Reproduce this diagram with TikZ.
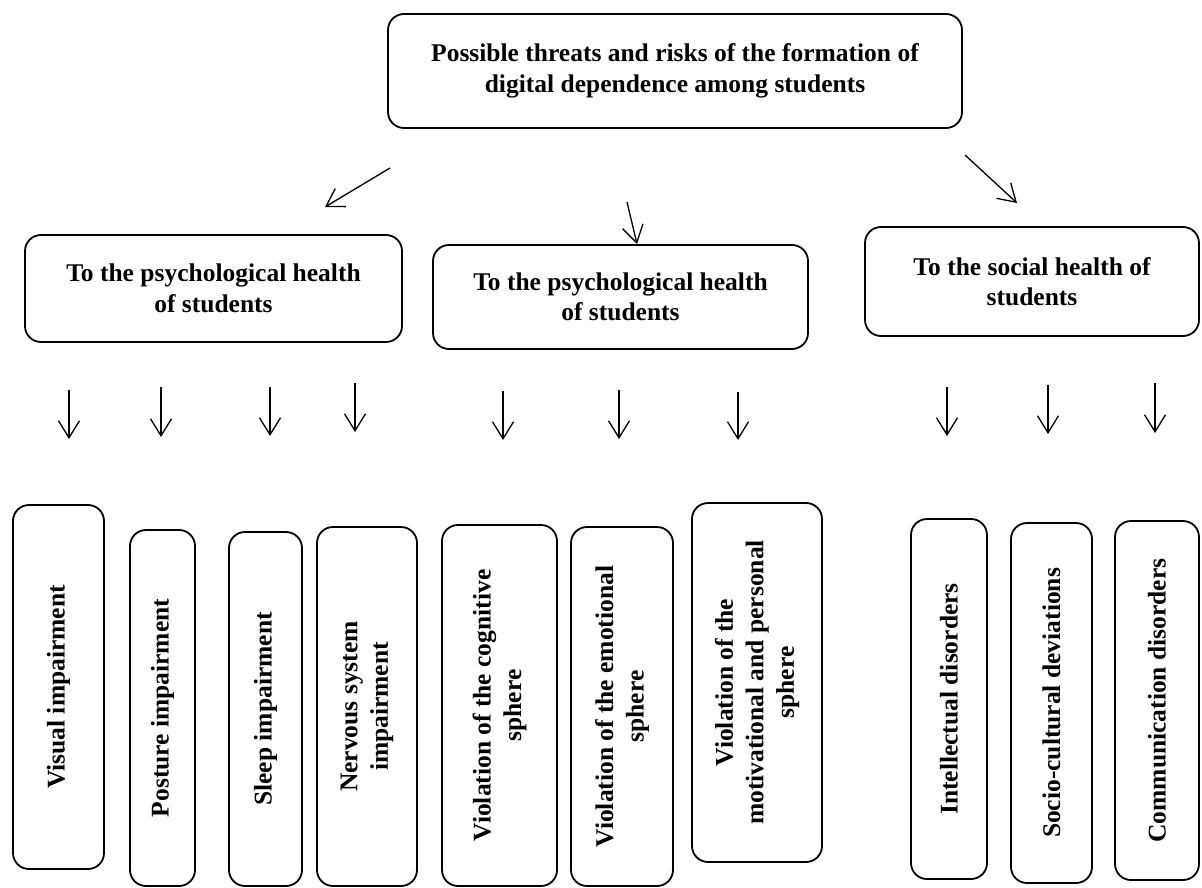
\documentclass[tikz,border=0pt]{standalone}
\usepackage{fontspec}
\setmainfont{Liberation Serif}
\usetikzlibrary{arrows.meta}

\begin{document}
\begin{tikzpicture}[
        x=1pt, y=-1pt,
        % rounded boxes
        box/.style={
            draw,
            line width=1.8pt,
            rounded corners=16pt,
            align=center,
            inner sep=0pt,
            font=\bfseries\fontsize{25.5}{30.5}\selectfont
        },
        % vertical boxes at the bottom
        leaf/.style={box, rotate=90},
        % open barbed arrows
        >={Straight Barb[length=17pt, width=21pt]},
        arr/.style={->, line width=1.3pt},
    ]

    \useasboundingbox (0,0) rectangle (1202,888);

    \node[box, minimum width=574, minimum height=114] (threats) at (675,71)
        {Possible threats and risks of the formation of\\ digital dependence among students};

    \node[box, minimum width=377, minimum height=107] (physical) at (213.5,288.5)
        {To the psychological health\\ of students};
    \node[box, minimum width=375, minimum height=104] (psychic) at (620.5,297)
        {To the psychological health\\ of students};
    \node[box, minimum width=334, minimum height=109] (social) at (1032,281.5)
        {To the social health of\\ students};

    \node[leaf, minimum width=364, minimum height=91] (visual) at (58.5,687) {Visual impairment};
    \node[leaf, minimum width=356, minimum height=65] (posture) at (162.5,708) {Posture impairment};
    \node[leaf, minimum width=354, minimum height=73] (sleep) at (265.5,709) {Sleep impairment};
    \node[leaf, minimum width=359, minimum height=100] (nervous) at (367,706.5) {Nervous system\\ impairment};
    \node[leaf, minimum width=361, minimum height=115] (cognitive) at (499.5,705.5) {Violation of the cognitive\\ sphere};
    \node[leaf, minimum width=359, minimum height=102] (emotional) at (622,706.5) {Violation of the emotional\\ sphere};
    \node[leaf, minimum width=359, minimum height=130] (motive) at (757,682.5) {Violation of the\\ motivational and personal\\ sphere};
    \node[leaf, minimum width=360, minimum height=76] (intellect) at (949,699) {Intellectual disorders};
    \node[leaf, minimum width=360, minimum height=81] (culture) at (1051.5,703) {Socio-cultural deviations};
    \node[leaf, minimum width=359, minimum height=84] (communic) at (1157,700.5) {Communication disorders};

    % ends of the free arrows
    \coordinate (d1) at (390,168);  \coordinate (d1e) at (325,207);
    \coordinate (d2) at (627,202);  \coordinate (d2e) at (637,244);
    \coordinate (d3) at (965,155);  \coordinate (d3e) at (1017,203);

    \coordinate (a1) at (69,390);   \coordinate (a1e) at (69,439);
    \coordinate (a2) at (161,387);  \coordinate (a2e) at (161,437);
    \coordinate (a3) at (270,387);  \coordinate (a3e) at (270,436);
    \coordinate (a4) at (355,383);  \coordinate (a4e) at (355,432);
    \coordinate (a5) at (503,391);  \coordinate (a5e) at (503,440);
    \coordinate (a6) at (619,390);  \coordinate (a6e) at (619,439);
    \coordinate (a7) at (738,392);  \coordinate (a7e) at (738,440);
    \coordinate (a8) at (947,387);  \coordinate (a8e) at (947,436);
    \coordinate (a9) at (1048,385); \coordinate (a9e) at (1048,434);
    \coordinate (a10) at (1155,383); \coordinate (a10e) at (1155,433);

    % arrows under the top box
    \draw[arr] (d1) -- (d1e);
    \draw[arr] (d2) -- (d2e);
    \draw[arr] (d3) -- (d3e);

    % arrows above the vertical boxes
    \draw[arr] (a1) -- (a1e);
    \draw[arr] (a2) -- (a2e);
    \draw[arr] (a3) -- (a3e);
    \draw[arr] (a4) -- (a4e);
    \draw[arr] (a5) -- (a5e);
    \draw[arr] (a6) -- (a6e);
    \draw[arr] (a7) -- (a7e);
    \draw[arr] (a8) -- (a8e);
    \draw[arr] (a9) -- (a9e);
    \draw[arr] (a10) -- (a10e);

\end{tikzpicture}
\end{document}
